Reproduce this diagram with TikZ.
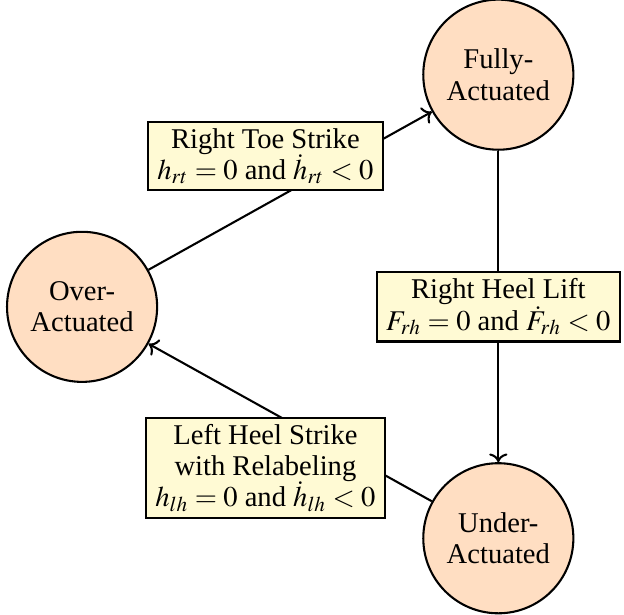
\documentclass[tikz,border=0pt]{standalone}
\usepackage{mathptmx}
\usepackage[no-math]{fontspec}
\setmainfont{Liberation Serif}
\usetikzlibrary{arrows.meta,calc}

\definecolor{statefill}{RGB}{255,222,194}
\definecolor{guardfill}{RGB}{255,250,212}

\tikzset{
  state/.style={circle,draw,thick,fill=statefill,minimum size=2.03cm,align=center,inner sep=0pt},
  guard/.style={rectangle,draw,thick,fill=guardfill,align=center,inner xsep=3.5pt,inner ysep=2.5pt},
  trans/.style={->,thick}
}

\begin{document}
\begin{tikzpicture}[font=\fontsize{11}{12}\selectfont]
\useasboundingbox (0cm,0cm) rectangle (8.44cm,-8.31cm);

% states
\node (full) at (6.74cm,-1.01cm) [state] {Fully-\\Actuated};
\node (over) at (1.11cm,-4.15cm) [state] {Over-\\Actuated};
\node (under) at (6.74cm,-7.28cm) [state] {Under-\\Actuated};

% transitions
\draw [trans] (over) -- (full);
\draw [trans] (full) -- (under);
\draw [trans] (under) -- (over);

% guards
\node (toe) at (3.59cm,-2.11cm) [guard] {Right Toe Strike\\$h_{rt}=0$ and $\dot{h}_{rt}<0$};
\node (lift) at (6.74cm,-4.15cm) [guard] {Right Heel Lift\\$F_{rh}=0$ and $\dot{F}_{rh}<0$};
\node (heel) at (3.59cm,-6.33cm) [guard] {Left Heel Strike\\with Relabeling\\$h_{lh}=0$ and $\dot{h}_{lh}<0$};

\end{tikzpicture}
\end{document}
